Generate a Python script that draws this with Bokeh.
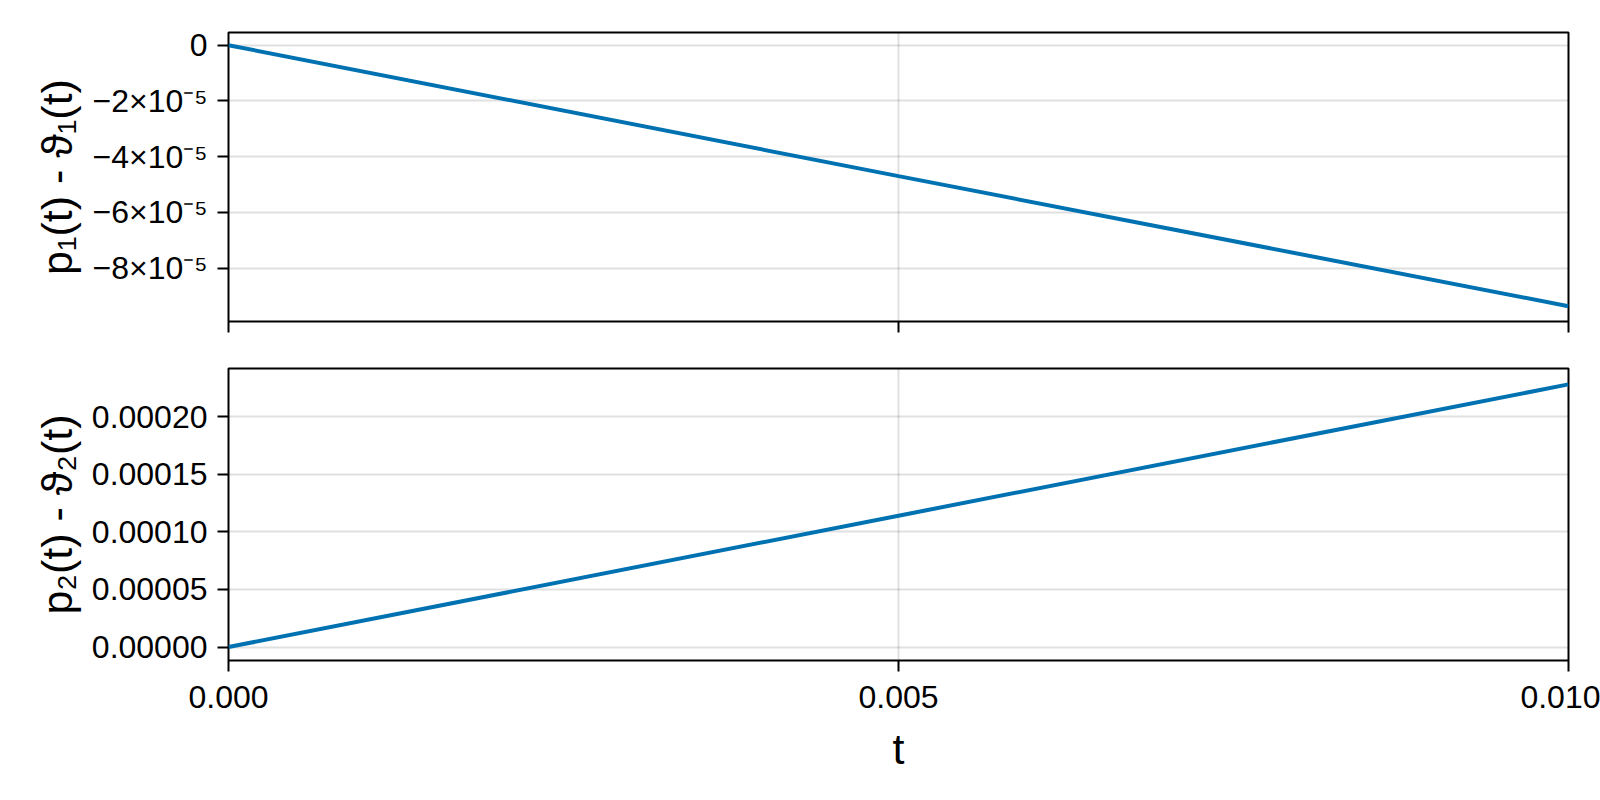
from bokeh.plotting import figure
from bokeh.layouts import column
from bokeh.models import Range1d, FixedTicker, CustomJSTickFormatter
from bokeh.embed import file_html
from bokeh.resources import INLINE

# ---- data ----
t_values = [0.0, 0.005, 0.010]
diff1 = [0.0, -4.7e-5, -9.37e-5]
diff2 = [0.0, 1.14e-4, 2.28e-4]

x_ticks = [0.0, 0.005, 0.010]
x_tick_labels = ["0.000", "0.005", "0.010"]
y1_ticks = [0.0, -2e-5, -4e-5, -6e-5, -8e-5]
y1_tick_labels = ["0", "\u22122\u00d710\u207b\u2075", "\u22124\u00d710\u207b\u2075",
                  "\u22126\u00d710\u207b\u2075", "\u22128\u00d710\u207b\u2075"]
y2_ticks = [0.0, 5e-5, 1e-4, 1.5e-4, 2e-4]
y2_tick_labels = ["0.00000", "0.00005", "0.00010", "0.00015", "0.00020"]

ylabel1 = "p\u2081(t) - \u03d1\u2081(t)"
ylabel2 = "p\u2082(t) - \u03d1\u2082(t)"
xlabel = "t"

FONT = "Liberation Sans"
LINE_COLOR = "#0072B2"
TICK_SIZE = "32px"
LABEL_SIZE = "43px"

x_range = Range1d(0.0, 0.010)


def style(p, yticks, ylabels, ylabel):
    p.outline_line_color = "black"
    p.outline_line_width = 2
    p.background_fill_color = "white"
    p.border_fill_color = "white"
    for ax in (p.xaxis[0], p.yaxis[0]):
        ax.axis_line_color = None
        ax.major_tick_line_color = "black"
        ax.major_tick_line_width = 2
        ax.major_tick_out = 11
        ax.major_tick_in = 0
        ax.minor_tick_line_color = None
        ax.major_label_text_font = FONT
        ax.major_label_text_font_size = TICK_SIZE
        ax.major_label_text_color = "black"
        ax.axis_label_text_font = FONT
        ax.axis_label_text_font_size = LABEL_SIZE
        ax.axis_label_text_font_style = "normal"
        ax.axis_label_text_color = "black"
    p.xaxis[0].ticker = FixedTicker(ticks=x_ticks)
    p.xaxis[0].major_label_overrides = dict(zip(x_ticks, x_tick_labels))
    p.yaxis[0].ticker = FixedTicker(ticks=yticks)
    p.yaxis[0].major_label_overrides = dict(zip(yticks, ylabels))
    p.yaxis[0].major_label_standoff = 10
    p.yaxis[0].axis_label = ylabel
    p.yaxis[0].axis_label_standoff = 8
    p.xgrid.ticker = FixedTicker(ticks=x_ticks)
    p.ygrid.ticker = FixedTicker(ticks=yticks)
    for g in (p.xgrid[0], p.ygrid[0]):
        g.grid_line_color = "black"
        g.grid_line_alpha = 0.12
        g.grid_line_width = 2


p1 = figure(width=1600, height=341, x_range=x_range,
            y_range=Range1d(-9.92e-5, 0.456e-5),
            output_backend="svg", toolbar_location=None,
            min_border_left=228, min_border_right=32,
            min_border_top=32, min_border_bottom=20)
p1.line(t_values, diff1, line_color=LINE_COLOR, line_width=4)
style(p1, y1_ticks, y1_tick_labels, ylabel1)
p1.xaxis[0].formatter = CustomJSTickFormatter(code="return ''")
p1.xaxis[0].major_label_overrides = {}
p1.xaxis[0].major_label_standoff = 0

p2 = figure(width=1600, height=459, x_range=x_range,
            y_range=Range1d(-1.17e-5, 24.18e-5),
            output_backend="svg", toolbar_location=None,
            min_border_left=228, min_border_right=32,
            min_border_top=27, min_border_bottom=140)
p2.line(t_values, diff2, line_color=LINE_COLOR, line_width=4)
style(p2, y2_ticks, y2_tick_labels, ylabel2)
p2.xaxis[0].axis_label = xlabel
p2.xaxis[0].major_label_standoff = 14
p2.xaxis[0].axis_label_standoff = 14

layout = column(p1, p2, spacing=0)

open("out.html", "w").write(file_html(layout, INLINE))
